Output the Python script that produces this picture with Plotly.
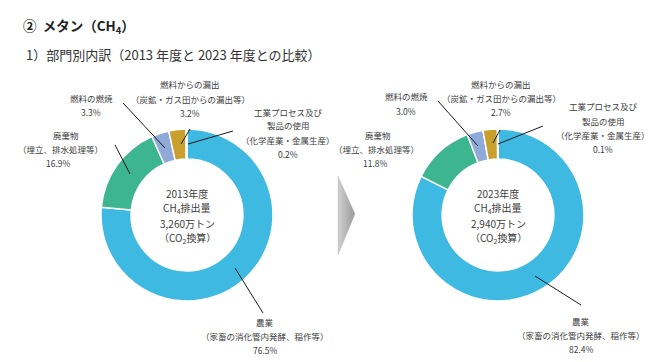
import plotly.graph_objects as go

W, H = 664, 362

# ---- data ----
sectors = ["農業", "廃棄物", "燃料の燃焼", "燃料からの漏出", "工業プロセス及び製品の使用"]
share_2013 = [76.5, 16.9, 3.3, 3.2, 0.2]
share_2023 = [82.4, 11.8, 3.0, 2.7, 0.1]
colors = ["#3DB9E2", "#3DB58F", "#8FA9D9", "#C9A02E", "#BDBDBD"]
years = ["2013年度", "2023年度"]
totals = ["3,260万トン", "2,940万トン"]

FONT = "Noto Sans CJK JP"
TXT = "#404040"

def px(x):
    return x / W

def py(y):
    return 1 - y / H

fig = go.Figure()

centers = [(179, 207), (490, 207)]
R = 86
for (cx, cy), vals, yr in zip(centers, [share_2013, share_2023], years):
    fig.add_trace(go.Pie(
        labels=sectors, values=vals, sort=False, direction="clockwise", rotation=0,
        hole=0.65, marker=dict(colors=colors, line=dict(color="white", width=1.5)),
        textinfo="none", hoverinfo="label+percent", showlegend=False,
        domain=dict(x=[px(cx - R), px(cx + R)], y=[py(cy + R), py(cy - R)]),
        name=yr,
    ))

# arrow (chevron) between charts, on hidden pixel axes
fig.add_trace(go.Scatter(
    x=[330, 347, 330, 330], y=[168, 206, 247, 168], mode="lines", fill="toself",
    line=dict(color="rgba(170,170,170,0.6)", width=0.5),
    fillgradient=dict(type="horizontal", colorscale=[[0, "#d0d0d0"], [1, "#9a9a9a"]]),
    hoverinfo="skip", showlegend=False, xaxis="x", yaxis="y",
))

annotations = []
shapes = []

def text(x, y, s, size=8.5, bold=False, xanchor="center"):
    annotations.append(dict(
        x=px(x), y=py(y), xref="paper", yref="paper", text=s, showarrow=False,
        xanchor=xanchor, yanchor="middle",
        font=dict(family=FONT, size=size, color=TXT if not bold else "#222222"),
    ))

def line(x0, y0, x1, y1):
    shapes.append(dict(type="line", xref="paper", yref="paper",
                       x0=px(x0), y0=py(y0), x1=px(x1), y1=py(y1),
                       line=dict(color="#1a1a1a", width=1)))

# titles
annotations.append(dict(x=px(13), y=py(18), xref="paper", yref="paper", showarrow=False,
                        xanchor="left", yanchor="middle",
                        text="<b>②  メタン（CH<sub>4</sub>）</b>",
                        font=dict(family=FONT, size=13.5, color="#222222")))
annotations.append(dict(x=px(16), y=py(47), xref="paper", yref="paper", showarrow=False,
                        xanchor="left", yanchor="middle",
                        text="1）部門別内訳（2013 年度と 2023 年度との比較）",
                        font=dict(family=FONT, size=13, color="#333333")))

# center texts
for (cx, cy), yr, tot in zip(centers, years, totals):
    for i, s in enumerate([yr, "CH<sub>4</sub>排出量", tot, "（CO<sub>2</sub>換算）"]):
        text(cx, 185 + 15 * i, s, size=10)

def pct(v):
    return f"{v:.1f}%"

# left labels
text(83, 90, "燃料の燃焼"); text(83, 104, pct(share_2013[2]))
line(115, 95, 157, 140)
text(182, 76, "燃料からの漏出"); text(182, 91, "（炭鉱・ガス田からの漏出等）"); text(182, 105, pct(share_2013[3]))
line(182, 121, 173, 136)
text(280, 104, "工業プロセス及び"); text(280, 117, "製品の使用"); text(280, 132, "（化学産業・金属生産）"); text(280, 146, pct(share_2013[4]))
line(225, 123, 180, 136)
text(58, 127, "廃棄物"); text(52, 141, "（埋立、排水処理等）"); text(50, 155, pct(share_2013[1]))
line(107, 137, 122, 166)
text(257, 314, "農業"); text(257, 328, "（家畜の消化管内発酵、稲作等）"); text(257, 342, pct(share_2013[0]))
line(227, 260, 255, 305)

# right labels
text(398, 88, "燃料の燃焼"); text(398, 103, pct(share_2023[2]))
line(430, 93, 470, 138)
text(493, 76, "燃料からの漏出"); text(493, 90, "（炭鉱・ガス田からの漏出等）"); text(493, 104, pct(share_2023[3]))
line(492, 122, 485, 135)
text(595, 98, "工業プロセス及び"); text(595, 113, "製品の使用"); text(595, 127, "（化学産業・金属生産）"); text(595, 141, pct(share_2023[4]))
line(535, 118, 490, 136)
text(370, 127, "廃棄物"); text(368, 141, "（埋立、排水処理等）"); text(367, 155, pct(share_2023[1]))
text(573, 313, "農業"); text(573, 327, "（家畜の消化管内発酵、稲作等）"); text(573, 341, pct(share_2023[0]))
line(527, 268, 573, 297)

fig.update_layout(
    width=W, height=H, margin=dict(l=0, r=0, t=0, b=0),
    paper_bgcolor="white", plot_bgcolor="rgba(0,0,0,0)",
    xaxis=dict(range=[0, W], visible=False, domain=[0, 1], fixedrange=True),
    yaxis=dict(range=[H, 0], visible=False, domain=[0, 1], fixedrange=True),
    annotations=annotations, shapes=shapes,
    font=dict(family=FONT),
)

fig.write_html("out.html")
